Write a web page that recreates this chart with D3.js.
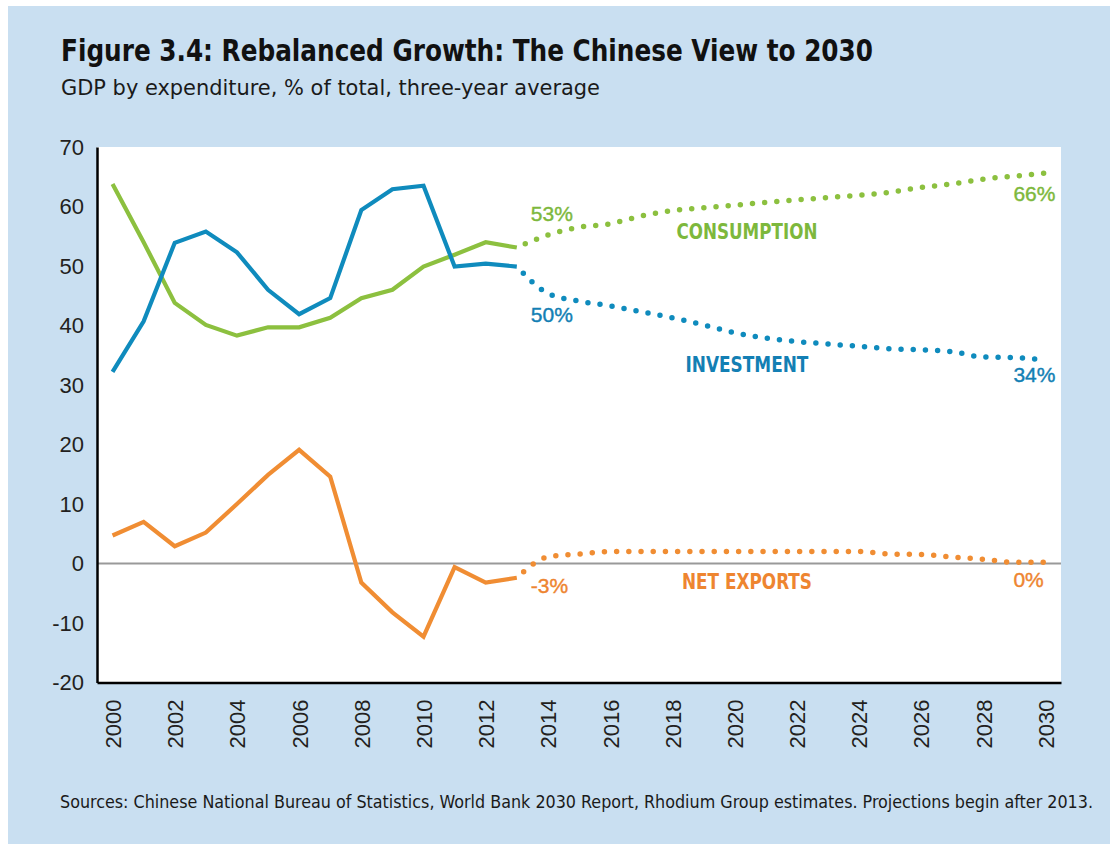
<!DOCTYPE html>
<html>
<head>
<meta charset="utf-8">
<script src="https://cdn.jsdelivr.net/npm/d3@7"></script>
<style>
  body { margin: 0; background: #fff; }
  svg { display: block; }
</style>
</head>
<body>
<div id="chart"></div>
<script>
// historical values (three-year average, % of GDP)
var histYears = [2000, 2001, 2002, 2003, 2004, 2005, 2006, 2007, 2008, 2009, 2010, 2011, 2012, 2013]
var consumptionHist = [63.8, 54.0, 43.8, 40.1, 38.3, 39.7, 39.7, 41.3, 44.6, 46.0, 49.9, 51.9, 54.0, 53.1]
var investmentHist = [32.2, 40.7, 53.9, 55.8, 52.3, 46.0, 41.9, 44.6, 59.4, 62.9, 63.5, 49.9, 50.4, 49.9]
var netExportsHist = [4.7, 7.0, 2.9, 5.2, 10.0, 14.9, 19.1, 14.6, -3.2, -8.2, -12.3, -0.6, -3.2, -2.4]

// projections after 2013
var projYears = [2013, 2014, 2015, 2016, 2017, 2018, 2019, 2020, 2021, 2022, 2023, 2024, 2025, 2026, 2027, 2028, 2029, 2030]
var consumptionProj = [53.1, 55.2, 56.5, 57.1, 58.4, 59.3, 59.8, 60.2, 60.7, 61.1, 61.5, 61.9, 62.4, 63.2, 63.8, 64.6, 65.1, 65.6]
var investmentProj = [49.9, 45.4, 44.1, 43.3, 42.3, 41.3, 40.1, 38.8, 37.9, 37.3, 36.9, 36.5, 36.1, 35.9, 35.6, 34.7, 34.6, 34.2]
var netExportsProj = [-2.4, 1.1, 1.6, 2.0, 2.0, 2.0, 2.0, 2.0, 2.0, 2.0, 2.0, 2.0, 1.6, 1.5, 1.1, 0.7, 0.2, 0.2]

var yTicks = [-20, -10, 0, 10, 20, 30, 40, 50, 60, 70]
var xTicks = [2000, 2002, 2004, 2006, 2008, 2010, 2012, 2014, 2016, 2018, 2020, 2022, 2024, 2026, 2028, 2030]

var seriesNames = ["CONSUMPTION", "INVESTMENT", "NET EXPORTS"]
var startLabels = ["53%", "50%", "-3%"]
var endLabels = ["66%", "34%", "0%"]

var width = 1110,
    height = 844,
    plotLeft = 97,
    plotRight = 1061,
    plotTop = 147,
    plotBottom = 682.5

var lineColors = ["#8cc03f", "#0f8bbd", "#f08d33"]
var textColors = ["#7db83c", "#137fb4", "#ee8530"]

var svg = d3.select("#chart")
  .append("svg")
    .attr("width", width)
    .attr("height", height)

// blue panel
svg.append("rect")
  .attr("x", 8)
  .attr("y", 6)
  .attr("width", width - 8)
  .attr("height", height - 6)
  .attr("fill", "#c9dff1")

svg.append("text")
  .attr("x", 61)
  .attr("y", 61)
  .attr("font-family", "'Liberation Sans Narrow', 'DejaVu Sans Condensed', sans-serif")
  .attr("font-weight", "bold")
  .attr("font-size", 30)
  .attr("fill", "#111")
  .attr("textLength", 812)
  .attr("lengthAdjust", "spacingAndGlyphs")
  .text("Figure 3.4: Rebalanced Growth: The Chinese View to 2030")

svg.append("text")
  .attr("x", 61)
  .attr("y", 95)
  .attr("font-family", "'Liberation Sans Narrow', 'DejaVu Sans Condensed', sans-serif")
  .attr("font-size", 21)
  .attr("fill", "#1a1a1a")
  .attr("textLength", 539)
  .attr("lengthAdjust", "spacingAndGlyphs")
  .text("GDP by expenditure, % of total, three-year average")

svg.append("text")
  .attr("x", 60)
  .attr("y", 808)
  .attr("font-family", "'Liberation Sans Narrow', 'DejaVu Sans Condensed', sans-serif")
  .attr("font-size", 17)
  .attr("fill", "#1a1a1a")
  .attr("textLength", 1033)
  .attr("lengthAdjust", "spacingAndGlyphs")
  .text("Sources: Chinese National Bureau of Statistics, World Bank 2030 Report, Rhodium Group estimates. Projections begin after 2013.")

// scales: half a year of padding at each end of the plot box
var x = d3.scaleLinear()
    .domain([1999.5, 2030.5])
    .range([plotLeft, plotRight])

var y = d3.scaleLinear()
    .domain([-20, 70])
    .range([plotBottom, plotTop])

svg.append("rect")
  .attr("x", plotLeft)
  .attr("y", plotTop)
  .attr("width", plotRight - plotLeft)
  .attr("height", plotBottom - plotTop)
  .attr("fill", "#fff")

// zero line
svg.append("line")
  .attr("x1", plotLeft)
  .attr("x2", plotRight)
  .attr("y1", y(0))
  .attr("y2", y(0))
  .attr("stroke", "#999")
  .attr("stroke-width", 2)

// axes
var yAxis = svg.append("g")
  .attr("transform", "translate(" + plotLeft + ",0)")
  .call(d3.axisLeft(y).tickValues(yTicks).tickSize(0).tickPadding(13).tickFormat(d => String(d)))
yAxis.select(".domain").attr("stroke", "#000").attr("stroke-width", 2.5)
yAxis.selectAll("text")
  .attr("font-family", "'Liberation Sans', Arial, sans-serif")
  .attr("font-size", 22)
  .attr("fill", "#231f20")

var xAxis = svg.append("g")
  .attr("transform", "translate(0," + plotBottom + ")")
  .call(d3.axisBottom(x).tickValues(xTicks).tickSize(0).tickFormat(d3.format("d")))
xAxis.select(".domain").attr("stroke", "#000").attr("stroke-width", 2.5)
xAxis.selectAll("text")
  .attr("font-family", "'Liberation Sans', Arial, sans-serif")
  .attr("font-size", 22)
  .attr("fill", "#231f20")
  .attr("text-anchor", "end")
  .attr("transform", "rotate(-90)")
  .attr("x", -17)
  .attr("y", 0)
  .attr("dy", "0.36em")

var histSeries = [consumptionHist, investmentHist, netExportsHist]
var projSeries = [consumptionProj, investmentProj, netExportsProj]

var histLine = d3.line()
  .x((d, i) => x(histYears[i]))
  .y(d => y(d))

var projLine = d3.line()
  .x((d, i) => x(projYears[i]))
  .y(d => y(d))
  .curve(d3.curveMonotoneX)

// projections: round dots
svg.selectAll("path.proj")
  .data(projSeries)
  .enter()
  .append("path")
    .attr("class", "proj")
    .attr("d", projLine)
    .attr("fill", "none")
    .attr("stroke", (d, i) => lineColors[i])
    .attr("stroke-width", 5.5)
    .attr("stroke-linecap", "round")
    .attr("stroke-dasharray", "0 12.2")
    .attr("stroke-dashoffset", 3)

// history: solid lines
svg.selectAll("path.hist")
  .data(histSeries)
  .enter()
  .append("path")
    .attr("class", "hist")
    .attr("d", histLine)
    .attr("fill", "none")
    .attr("stroke", (d, i) => lineColors[i])
    .attr("stroke-width", 4.2)
    .attr("stroke-linejoin", "miter")

// label anchors in data units
var startPos = [[2013.45, 57.6], [2013.45, 40.6], [2013.45, -5.0]]
var endPos = [[2028.97, 60.9], [2028.97, 30.5], [2028.97, -3.95]]
var namePos = [[2020.4, 54.5], [2020.4, 32.2], [2020.4, -4.3]]
var nameWidths = [141, 123, 130]

svg.selectAll("text.start")
  .data(startLabels)
  .enter()
  .append("text")
    .attr("class", "start")
    .attr("x", (d, i) => x(startPos[i][0]))
    .attr("y", (d, i) => y(startPos[i][1]))
    .attr("font-family", "'Liberation Sans', Arial, sans-serif")
    .attr("font-size", 21)
    .attr("fill", (d, i) => textColors[i])
    .attr("stroke", (d, i) => textColors[i])
    .attr("stroke-width", 0.4)
    .text(d => d)

svg.selectAll("text.end")
  .data(endLabels)
  .enter()
  .append("text")
    .attr("class", "end")
    .attr("x", (d, i) => x(endPos[i][0]))
    .attr("y", (d, i) => y(endPos[i][1]))
    .attr("font-family", "'Liberation Sans', Arial, sans-serif")
    .attr("font-size", 21)
    .attr("fill", (d, i) => textColors[i])
    .attr("stroke", (d, i) => textColors[i])
    .attr("stroke-width", 0.4)
    .text(d => d)

svg.selectAll("text.name")
  .data(seriesNames)
  .enter()
  .append("text")
    .attr("class", "name")
    .attr("x", (d, i) => x(namePos[i][0]) - nameWidths[i] / 2)
    .attr("y", (d, i) => y(namePos[i][1]))
    .attr("font-family", "'Liberation Sans Narrow', 'DejaVu Sans Condensed', sans-serif")
    .attr("font-weight", "bold")
    .attr("font-size", 22)
    .attr("fill", (d, i) => textColors[i])
    .attr("textLength", (d, i) => nameWidths[i])
    .attr("lengthAdjust", "spacingAndGlyphs")
    .text(d => d)
</script>
</body>
</html>
